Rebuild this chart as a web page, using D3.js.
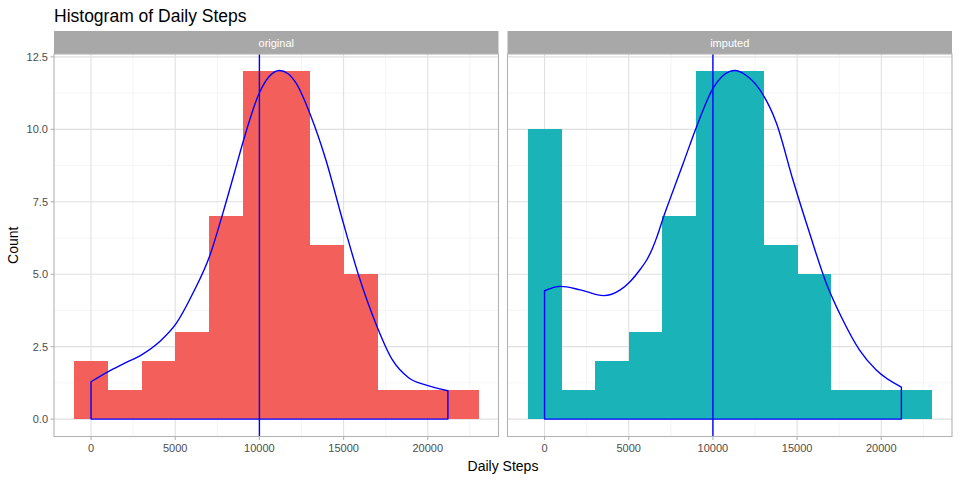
<!DOCTYPE html>
<html><head><meta charset="utf-8">
<script src="https://cdn.jsdelivr.net/npm/d3@7/dist/d3.min.js"></script>
<style>body{margin:0;background:#fff;} svg{display:block;font-family:"Liberation Sans",Arial,sans-serif;}</style>
</head><body>
<svg id="c" width="960" height="480"></svg>
<script>
const panels = ["original", "imputed"];
const binCenters = [0, 2000, 4000, 6000, 8000, 10000, 12000, 14000, 16000, 18000, 20000, 22000];
const binWidth = 2000;
const originalCounts = [2, 1, 2, 3, 7, 12, 12, 6, 5, 1, 1, 1];
const imputedCounts = [10, 1, 2, 3, 7, 12, 12, 6, 5, 1, 1, 1];
const barColors = ["#F35F5B", "#19B3B8"];
const origDensX = [0, 1024, 2000, 3000, 4083, 5070, 6055, 7040, 7830, 8620, 9010, 10000, 10590, 11180, 11700, 12170, 13060, 13945, 14930, 15915, 16905, 17890, 18880, 19865, 21194];
const origDensY = [1.29, 1.64, 1.93, 2.22, 2.68, 3.31, 4.35, 5.62, 7.11, 8.72, 9.53, 11.26, 11.83, 12.03, 11.92, 11.6, 10.45, 8.95, 6.88, 4.92, 3.31, 2.05, 1.42, 1.18, 0.98];
const impDensX = [0, 947, 2130, 3510, 4497, 5090, 5700, 6077, 6400, 6668, 7023, 7456, 8243, 9036, 10020, 11006, 11300, 12000, 12780, 13770, 14750, 15740, 16727, 17710, 18700, 19686, 21194];
const impDensY = [4.43, 4.58, 4.46, 4.26, 4.46, 4.75, 5.18, 5.50, 5.88, 6.28, 6.90, 7.60, 8.84, 10.1, 11.43, 12.0, 12.03, 11.85, 11.37, 10.22, 8.26, 6.42, 4.70, 3.43, 2.39, 1.70, 1.10];
const vlineX = 10000;
const xTicks = [0, 5000, 10000, 15000, 20000];
const xMinor = [2500, 7500, 12500, 17500, 22500];
const yTicks = [0, 2.5, 5, 7.5, 10, 12.5];
const yMinor = [1.25, 3.75, 6.25, 8.75, 11.25];
const title = "Histogram of Daily Steps";
const xTitle = "Daily Steps";
const yTitle = "Count";

const countsBy = [originalCounts, imputedCounts];
const densBy = [[origDensX, origDensY], [impDensX, impDensY]];

const svg = d3.select("#c");
const panelTop = 54, panelBottom = 436.5;
const panelLefts = [54, 507.5], panelW = 444.5;
const stripTop = 31;

const y = d3.scaleLinear().domain([-0.6, 12.6]).range([panelBottom, panelTop]);

svg.append("text").attr("x", 54).attr("y", 22).attr("font-size", 17.5).attr("fill", "#000").text(title);

panels.forEach((p, i) => {
  const L = panelLefts[i];
  const x = d3.scaleLinear().domain([-2200, 24200]).range([L, L + panelW]);
  const g = svg.append("g");
  g.append("rect").attr("x", L).attr("y", stripTop).attr("width", panelW).attr("height", panelTop - stripTop).attr("fill", "#a8a8a8");
  g.append("text").attr("x", L + panelW / 2).attr("y", (stripTop + panelTop) / 2 + 4).attr("text-anchor", "middle").attr("font-size", 11).attr("fill", "#fff").text(p);
  const clipId = "clip" + i;
  svg.append("clipPath").attr("id", clipId).append("rect").attr("x", L).attr("y", panelTop).attr("width", panelW).attr("height", panelBottom - panelTop);
  const pg = g.append("g").attr("clip-path", `url(#${clipId})`);
  xMinor.forEach(v => pg.append("line").attr("x1", x(v)).attr("x2", x(v)).attr("y1", panelTop).attr("y2", panelBottom).attr("stroke", "#efefef").attr("stroke-width", 0.6));
  yMinor.forEach(v => pg.append("line").attr("x1", L).attr("x2", L + panelW).attr("y1", y(v)).attr("y2", y(v)).attr("stroke", "#efefef").attr("stroke-width", 0.6));
  xTicks.forEach(v => pg.append("line").attr("x1", x(v)).attr("x2", x(v)).attr("y1", panelTop).attr("y2", panelBottom).attr("stroke", "#e0e0e0").attr("stroke-width", 1.1));
  yTicks.forEach(v => pg.append("line").attr("x1", L).attr("x2", L + panelW).attr("y1", y(v)).attr("y2", y(v)).attr("stroke", "#e0e0e0").attr("stroke-width", 1.1));
  const barsG = pg.append("g").attr("shape-rendering", "crispEdges");
  barsG.selectAll("rect").data(binCenters).enter().append("rect")
    .attr("x", d => x(d - binWidth / 2)).attr("width", d => x(d + binWidth / 2) - x(d - binWidth / 2) + 0.5)
    .attr("y", (d, j) => y(countsBy[i][j])).attr("height", (d, j) => y(0) - y(countsBy[i][j]))
    .attr("fill", barColors[i]);
  const [dx, dy] = densBy[i];
  const pts = dx.map((v, j) => [v, dy[j]]);
  const line = d3.line().x(d => x(d[0])).y(d => y(d[1])).curve(d3.curveMonotoneX);
  const top = line(pts);
  const path = `M${x(dx[0])},${y(0)}` + top.replace(/^M/, "L") + `L${x(dx[dx.length - 1])},${y(0)}Z`;
  pg.append("path").attr("d", path).attr("fill", "none").attr("stroke", "#0000ff").attr("stroke-width", 1.4).attr("stroke-linejoin", "round");
  pg.append("line").attr("x1", x(vlineX)).attr("x2", x(vlineX)).attr("y1", panelTop).attr("y2", panelBottom).attr("stroke", "#0000ff").attr("stroke-width", 1.4);
  g.append("rect").attr("x", L).attr("y", panelTop).attr("width", panelW).attr("height", panelBottom - panelTop).attr("fill", "none").attr("stroke", "#b3b3b3").attr("stroke-width", 1.1);
  xTicks.forEach(v => {
    g.append("line").attr("x1", x(v)).attr("x2", x(v)).attr("y1", panelBottom).attr("y2", panelBottom + 3.5).attr("stroke", "#b3b3b3").attr("stroke-width", 1.1);
    g.append("text").attr("x", x(v)).attr("y", panelBottom + 15).attr("text-anchor", "middle").attr("font-size", 11).attr("fill", "#4d4d4d").text(v);
  });
  if (i === 0) {
    yTicks.forEach(v => {
      g.append("line").attr("x1", L - 3.5).attr("x2", L).attr("y1", y(v)).attr("y2", y(v)).attr("stroke", "#b3b3b3").attr("stroke-width", 1.1);
      g.append("text").attr("x", L - 6).attr("y", y(v) + 4).attr("text-anchor", "end").attr("font-size", 11).attr("fill", "#4d4d4d").text(d3.format(".1f")(v));
    });
  }
});

svg.append("text").attr("x", (54 + 952) / 2).attr("y", 471).attr("text-anchor", "middle").attr("font-size", 14).attr("fill", "#000").text(xTitle);
svg.append("text").attr("transform", `translate(18,${(panelTop + panelBottom) / 2}) rotate(-90)`).attr("text-anchor", "middle").attr("font-size", 14).attr("fill", "#000").text(yTitle);
</script>
</body></html>
